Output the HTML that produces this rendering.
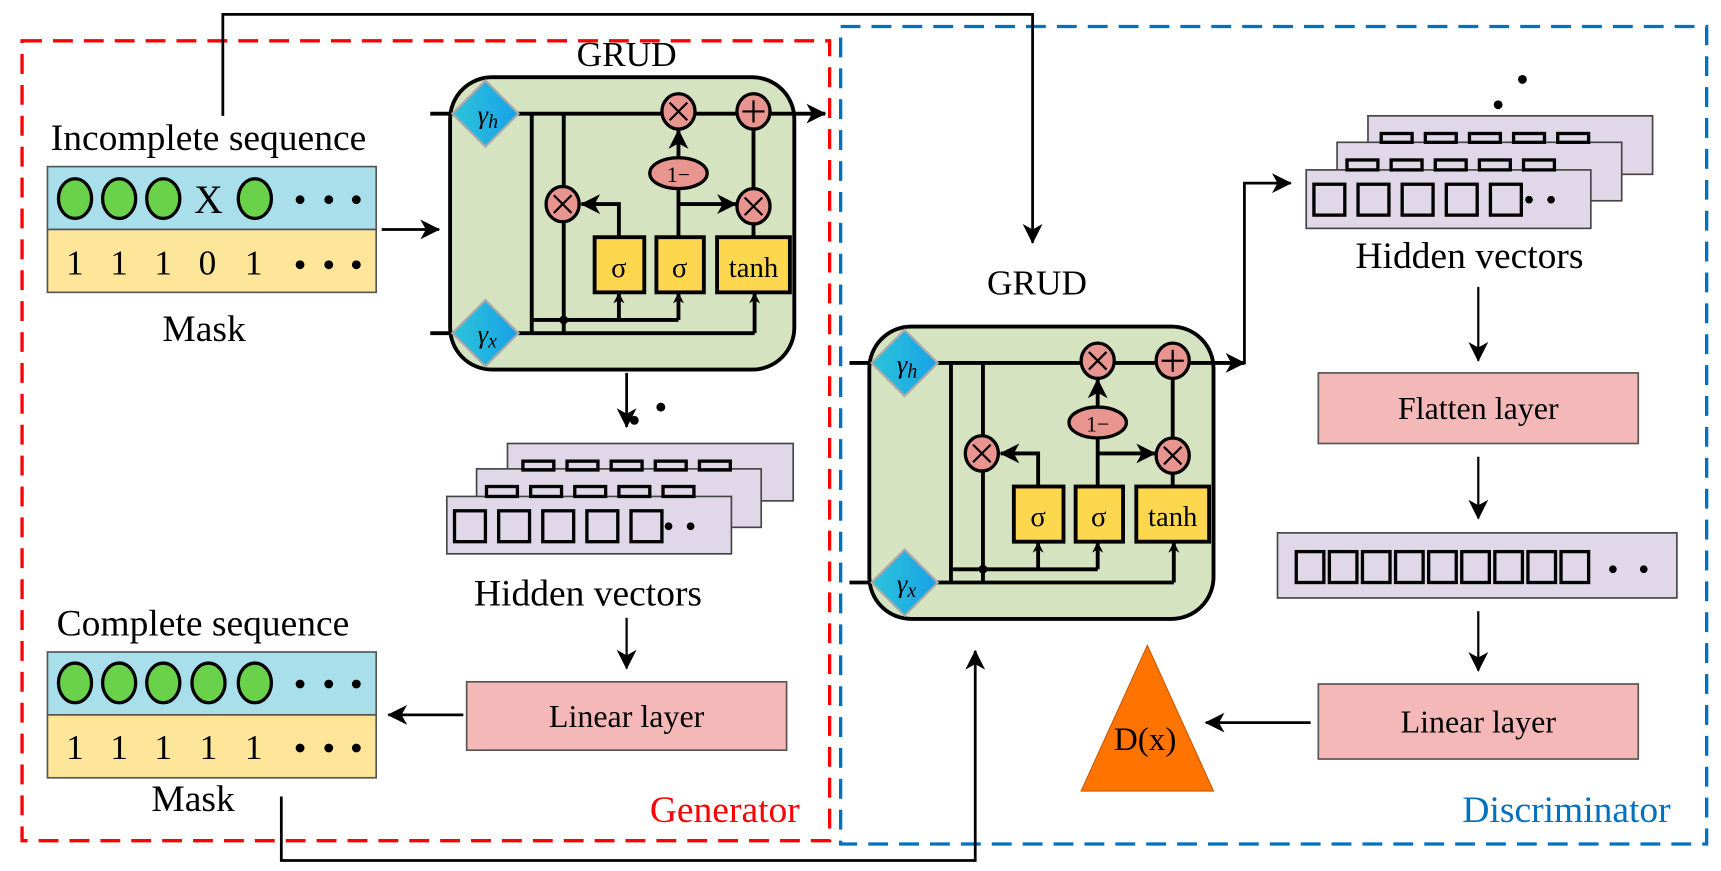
<!DOCTYPE html>
<html><head><meta charset="utf-8"><style>html,body{margin:0;padding:0;background:#fff}svg{display:block}text{font-family:"Liberation Serif",serif}</style></head><body>
<svg width="1721" height="871" viewBox="0 0 1560 789.5" preserveAspectRatio="none" xmlns="http://www.w3.org/2000/svg">
<defs>
<marker id="a" markerWidth="10" markerHeight="10" refX="9" refY="5" orient="auto" markerUnits="userSpaceOnUse"><path d="M0,0 L10,5 L0,10 L3,5z" fill="#000"/></marker>
<marker id="b" markerWidth="18" markerHeight="18" refX="17" refY="9" orient="auto" markerUnits="userSpaceOnUse"><path d="M0,0 L18,9 L0,18 L5,9z" fill="#000"/></marker>
<linearGradient id="dg" x1="0" x2="1" y1="0" y2="0"><stop offset="0" stop-color="#2cc5d8"/><stop offset="1" stop-color="#18a0e8"/></linearGradient>
<g id="grud">
<rect x="408" y="70" width="312" height="265" rx="38" fill="#d5e3c0" stroke="#000" stroke-width="3.5"/>
<g stroke="#000" stroke-width="3.5" fill="none">
<line x1="390" y1="103" x2="748" y2="103" marker-end="url(#b)"/>
<line x1="390" y1="302" x2="684" y2="302"/>
<line x1="482" y1="103" x2="482" y2="302"/>
<line x1="511" y1="103" x2="511" y2="302"/>
<line x1="482" y1="290" x2="615" y2="290"/>
<line x1="684" y1="302" x2="684" y2="266" marker-end="url(#a)"/>
<line x1="561" y1="290" x2="561" y2="266" marker-end="url(#a)"/>
<line x1="615" y1="290" x2="615" y2="266" marker-end="url(#a)"/>
<polyline points="561,215 561,185 527,185" marker-end="url(#b)"/>
<line x1="615" y1="215" x2="615" y2="170"/>
<line x1="615" y1="145" x2="615" y2="118" marker-end="url(#b)"/>
<line x1="615" y1="185" x2="667" y2="185" marker-end="url(#b)"/>
<line x1="683" y1="103" x2="683" y2="215"/>
</g>
<circle cx="511" cy="290" r="4" fill="#000"/>
<path d="M440,73 L470,103 L440,133 L410,103z" fill="url(#dg)" stroke="#aaa" stroke-width="2"/>
<path d="M440,272 L470,302 L440,332 L410,302z" fill="url(#dg)" stroke="#aaa" stroke-width="2"/>
<text x="433" y="112" font-size="24" font-style="italic">γ<tspan font-size="18" dy="4">h</tspan></text>
<text x="433" y="311" font-size="24" font-style="italic">γ<tspan font-size="18" dy="4">x</tspan></text>
<g fill="#e8958f" stroke="#000" stroke-width="3">
<ellipse cx="615" cy="101" rx="15" ry="16"/><ellipse cx="683" cy="101" rx="15" ry="16"/>
<ellipse cx="510" cy="185" rx="15" ry="16"/><ellipse cx="683" cy="187" rx="15" ry="16"/>
<ellipse cx="615" cy="157" rx="26" ry="14"/>
</g>
<g stroke="#000" stroke-width="2">
<path d="M607,93 l16,16 M623,93 l-16,16 M502,177 l16,16 M518,177 l-16,16 M675,179 l16,16 M691,179 l-16,16 M673,101 h20 M683,91 v20"/>
</g>
<text x="615" y="165" font-size="20" text-anchor="middle">1−</text>
<g fill="#fdd84f" stroke="#000" stroke-width="3.5">
<rect x="539" y="215" width="45" height="50"/><rect x="595" y="215" width="43" height="50"/><rect x="650" y="215" width="66" height="50"/>
</g>
<text x="561" y="251" font-size="26" text-anchor="middle">σ</text>
<text x="616" y="251" font-size="26" text-anchor="middle">σ</text>
<text x="683" y="251" font-size="26" text-anchor="middle">tanh</text>
</g>
</defs>

<rect x="20" y="37" width="732" height="725" fill="none" stroke="#f00" stroke-width="3" stroke-dasharray="18,10"/>
<rect x="762" y="24" width="785" height="741" fill="none" stroke="#0070c0" stroke-width="3" stroke-dasharray="18,10"/>

<polyline points="202,105 202,13 936,13 936,220" fill="none" stroke="#000" stroke-width="2.5" marker-end="url(#b)"/>
<polyline points="255,722 255,780 884,780 884,590" fill="none" stroke="#000" stroke-width="2.5" marker-end="url(#b)"/>

<text x="189" y="136" font-size="34" text-anchor="middle">Incomplete sequence</text>
<rect x="43" y="151" width="298" height="57" fill="#a8dfea" stroke="#555" stroke-width="1.5"/>
<rect x="43" y="208" width="298" height="57" fill="#fde69a" stroke="#555" stroke-width="1.5"/>
<g fill="#6ad24a" stroke="#000" stroke-width="3"><ellipse cx="68" cy="180" rx="15" ry="18"/><ellipse cx="108" cy="180" rx="15" ry="18"/><ellipse cx="148" cy="180" rx="15" ry="18"/><ellipse cx="231" cy="180" rx="15" ry="18"/></g>
<text x="189" y="193" font-size="36" text-anchor="middle">X</text>
<g fill="#000"><circle cx="272" cy="181" r="4"/><circle cx="298" cy="181" r="4"/><circle cx="323" cy="181" r="4"/><circle cx="272" cy="240" r="4"/><circle cx="298" cy="240" r="4"/><circle cx="323" cy="240" r="4"/></g>
<text font-size="32" y="249"><tspan x="60">1</tspan><tspan x="100">1</tspan><tspan x="140">1</tspan><tspan x="180">0</tspan><tspan x="222">1</tspan></text>
<text x="185" y="309" font-size="34" text-anchor="middle">Mask</text>
<line x1="346" y1="208" x2="398" y2="208" stroke="#000" stroke-width="2.5" marker-end="url(#b)"/>

<text x="568" y="60" font-size="32" text-anchor="middle">GRUD</text>
<use href="#grud"/>

<line x1="568" y1="338" x2="568" y2="387" stroke="#000" stroke-width="2.5" marker-end="url(#b)"/>
<circle cx="575" cy="381" r="4"/><circle cx="599" cy="369" r="4"/>
<g fill="#e0d8e8" stroke="#444" stroke-width="1.5">
<rect x="460" y="402" width="259" height="52"/><rect x="432" y="425" width="258" height="53"/><rect x="405" y="450" width="258" height="52"/>
</g>
<g fill="none" stroke="#000" stroke-width="3">
<rect x="474" y="418" width="28" height="8"/><rect x="514" y="418" width="28" height="8"/><rect x="554" y="418" width="28" height="8"/><rect x="594" y="418" width="28" height="8"/><rect x="634" y="418" width="28" height="8"/>
<rect x="441" y="441" width="28" height="9"/><rect x="481" y="441" width="28" height="9"/><rect x="521" y="441" width="28" height="9"/><rect x="561" y="441" width="28" height="9"/><rect x="601" y="441" width="28" height="9"/>
<rect x="412" y="463" width="28" height="28"/><rect x="452" y="463" width="28" height="28"/><rect x="492" y="463" width="28" height="28"/><rect x="532" y="463" width="28" height="28"/><rect x="572" y="463" width="28" height="28"/>
</g>
<circle cx="606" cy="477" r="3.5"/><circle cx="626" cy="477" r="3.5"/>
<text x="533" y="549" font-size="34" text-anchor="middle">Hidden vectors</text>
<line x1="568" y1="560" x2="568" y2="606" stroke="#000" stroke-width="2" marker-end="url(#b)"/>
<rect x="423" y="618" width="290" height="62" fill="#f4b8b8" stroke="#555" stroke-width="1.5"/>
<text x="568" y="659" font-size="29" text-anchor="middle">Linear layer</text>
<line x1="420" y1="648" x2="352" y2="648" stroke="#000" stroke-width="2.5" marker-end="url(#b)"/>

<text x="184" y="576" font-size="34" text-anchor="middle">Complete sequence</text>
<rect x="43" y="591" width="298" height="57" fill="#a8dfea" stroke="#555" stroke-width="1.5"/>
<rect x="43" y="648" width="298" height="57" fill="#fde69a" stroke="#555" stroke-width="1.5"/>
<g fill="#6ad24a" stroke="#000" stroke-width="3"><ellipse cx="68" cy="619" rx="15" ry="18"/><ellipse cx="108" cy="619" rx="15" ry="18"/><ellipse cx="148" cy="619" rx="15" ry="18"/><ellipse cx="189" cy="619" rx="15" ry="18"/><ellipse cx="231" cy="619" rx="15" ry="18"/></g>
<g fill="#000"><circle cx="272" cy="620" r="4"/><circle cx="298" cy="620" r="4"/><circle cx="323" cy="620" r="4"/><circle cx="272" cy="678" r="4"/><circle cx="298" cy="678" r="4"/><circle cx="323" cy="678" r="4"/></g>
<text font-size="32" y="688"><tspan x="60">1</tspan><tspan x="100">1</tspan><tspan x="140">1</tspan><tspan x="181">1</tspan><tspan x="222">1</tspan></text>
<text x="175" y="735" font-size="34" text-anchor="middle">Mask</text>
<text x="657" y="745" font-size="34" fill="#f00" text-anchor="middle">Generator</text>

<text x="940" y="267" font-size="32" text-anchor="middle">GRUD</text>
<g transform="translate(380,226)"><use href="#grud"/></g>
<polyline points="1102,329 1128,329 1128,166 1170,166" fill="none" stroke="#000" stroke-width="2.5" marker-end="url(#b)"/>

<circle cx="1358" cy="95" r="4"/><circle cx="1380" cy="72" r="4"/>
<g fill="#e0d8e8" stroke="#444" stroke-width="1.5">
<rect x="1240" y="105" width="258" height="53"/><rect x="1212" y="129" width="258" height="53"/><rect x="1184" y="154" width="258" height="53"/>
</g>
<g fill="none" stroke="#000" stroke-width="3">
<rect x="1252" y="121" width="28" height="8"/><rect x="1292" y="121" width="28" height="8"/><rect x="1332" y="121" width="28" height="8"/><rect x="1372" y="121" width="28" height="8"/><rect x="1412" y="121" width="28" height="8"/>
<rect x="1221" y="145" width="28" height="9"/><rect x="1261" y="145" width="28" height="9"/><rect x="1301" y="145" width="28" height="9"/><rect x="1341" y="145" width="28" height="9"/><rect x="1381" y="145" width="28" height="9"/>
<rect x="1191" y="167" width="28" height="28"/><rect x="1231" y="167" width="28" height="28"/><rect x="1271" y="167" width="28" height="28"/><rect x="1311" y="167" width="28" height="28"/><rect x="1351" y="167" width="28" height="28"/>
</g>
<circle cx="1386" cy="181" r="3.5"/><circle cx="1406" cy="181" r="3.5"/>
<text x="1332" y="243" font-size="34" text-anchor="middle">Hidden vectors</text>
<line x1="1340" y1="260" x2="1340" y2="327" stroke="#000" stroke-width="2" marker-end="url(#b)"/>
<rect x="1195" y="338" width="290" height="64" fill="#f4b8b8" stroke="#555" stroke-width="1.5"/>
<text x="1340" y="380" font-size="29" text-anchor="middle">Flatten layer</text>
<line x1="1340" y1="414" x2="1340" y2="470" stroke="#000" stroke-width="2" marker-end="url(#b)"/>
<rect x="1158" y="483" width="362" height="59" fill="#e0d8e8" stroke="#444" stroke-width="1.5"/>
<g fill="none" stroke="#000" stroke-width="3">
<rect x="1175" y="500" width="25" height="28"/><rect x="1205" y="500" width="25" height="28"/><rect x="1235" y="500" width="25" height="28"/><rect x="1265" y="500" width="25" height="28"/><rect x="1295" y="500" width="25" height="28"/><rect x="1325" y="500" width="25" height="28"/><rect x="1355" y="500" width="25" height="28"/><rect x="1385" y="500" width="25" height="28"/><rect x="1415" y="500" width="25" height="28"/>
</g>
<circle cx="1462" cy="516" r="3.5"/><circle cx="1490" cy="516" r="3.5"/>
<line x1="1340" y1="554" x2="1340" y2="608" stroke="#000" stroke-width="2" marker-end="url(#b)"/>
<rect x="1195" y="620" width="290" height="68" fill="#f4b8b8" stroke="#555" stroke-width="1.5"/>
<text x="1340" y="664" font-size="29" text-anchor="middle">Linear layer</text>
<line x1="1188" y1="655" x2="1093" y2="655" stroke="#000" stroke-width="2.5" marker-end="url(#b)"/>
<path d="M1040,585 L1100,717 L980,717z" fill="#ff7300" stroke="#c85a00" stroke-width="1"/>
<text x="1038" y="680" font-size="30" text-anchor="middle">D(x)</text>
<text x="1420" y="745" font-size="34" fill="#0070c0" text-anchor="middle">Discriminator</text>
</svg>
</body></html>
